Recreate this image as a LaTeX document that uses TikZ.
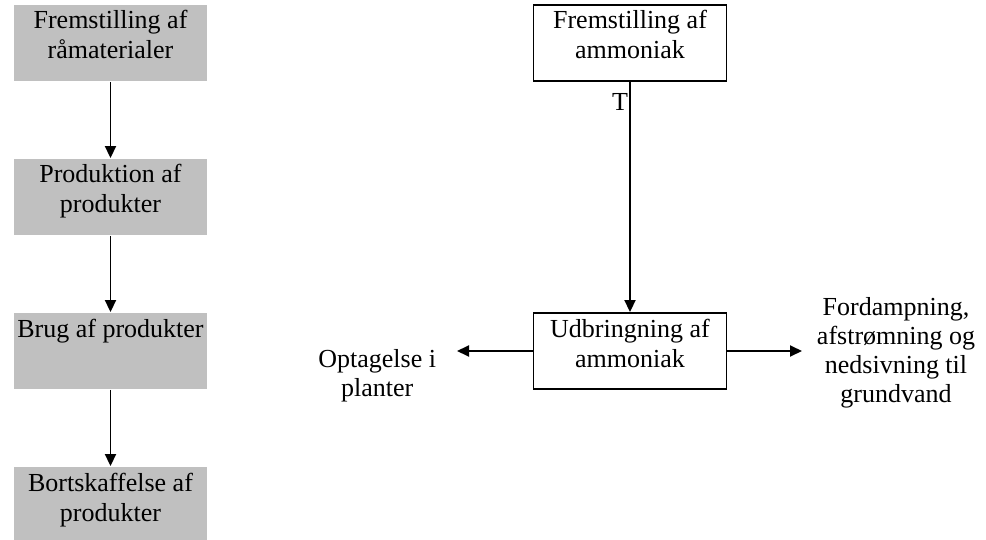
\documentclass[tikz,border=0pt]{standalone}
\usepackage{fontspec}
\setmainfont{Liberation Serif}
\usetikzlibrary{arrows.meta,shapes,calc}
\definecolor{boxgray}{RGB}{192,192,192}

\begin{document}
\begin{tikzpicture}[->,>={Triangle[length=12pt,width=11pt]},line width=1.9pt,auto,node distance=154pt,
  main node/.style={minimum width=193pt,inner xsep=2pt,inner ysep=8pt,text height=46pt,text depth=14pt,
    align=center,font=\fontsize{26}{30}\selectfont},
  grey node/.style={main node,fill=boxgray},
  white node/.style={main node,draw,fill=white},
  side node/.style={align=center,font=\fontsize{26}{29}\selectfont}]

  \useasboundingbox (0,0) rectangle (986pt,-540pt);

  % livscyklus
  \node[grey node] (1) at (110.5pt,-43pt) {Fremstilling af\\råmaterialer};
  \node[grey node] (2) [below of=1] {Produktion af\\produkter};
  \node[grey node] (3) [below of=2] {Brug af produkter\\\mbox{}};
  \node[grey node] (4) [below of=3] {Bortskaffelse af\\produkter};

  % ammoniak
  \node[white node] (5) at (630pt,-43pt) {Fremstilling af\\ammoniak};
  \node[white node] (6) [below of=5,node distance=308pt] {Udbringning af\\ammoniak};
  \node[side node,anchor=east,inner xsep=20pt] (7) at (457pt,-376pt) {Optagelse i\\planter};
  \node[side node,anchor=west,inner xsep=14pt] (8) at (802pt,-353pt) {Fordampning,\\afstrømning og\\nedsivning til\\grundvand};

  \path[every node/.style={}]
    (1) edge (2)
    (2) edge (3)
    (3) edge (4)
    (5) edge node[pos=0,anchor=north east,inner sep=0pt,yshift=-11pt,xshift=-1pt,font=\fontsize{26}{30}\selectfont] {T} (6)
    (6) edge (6 -| 7.east)
    (6) edge (6 -| 8.west);
\end{tikzpicture}
\end{document}
